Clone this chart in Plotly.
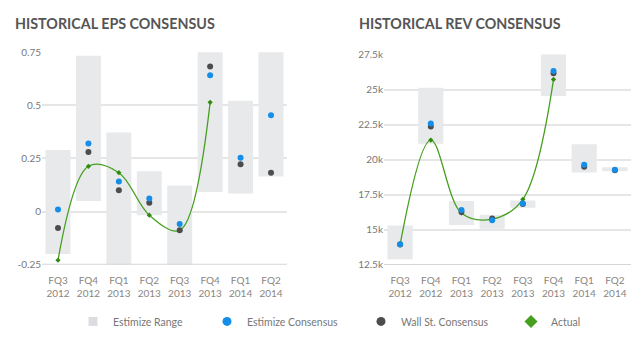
import plotly.graph_objects as go

quarters = ["FQ3<br>2012", "FQ4<br>2012", "FQ1<br>2013", "FQ2<br>2013",
            "FQ3<br>2013", "FQ4<br>2013", "FQ1<br>2014", "FQ2<br>2014"]

# EPS
eps_range_low = [-0.20, 0.05, -0.30, -0.017, -0.30, 0.092, 0.085, 0.165]
eps_range_high = [0.29, 0.733, 0.372, 0.19, 0.123, 0.80, 0.521, 0.80]
eps_estimize = [0.01, 0.32, 0.142, 0.062, -0.059, 0.642, 0.253, 0.453]
eps_wallst = [-0.077, 0.28, 0.10, 0.042, -0.088, 0.683, 0.223, 0.183]
eps_actual = [-0.229, 0.213, 0.183, -0.017, -0.088, 0.514, None, None]

# Revenue
rev_range_low = [12900, 21130, 15350, 15080, 16580, 24530, 19080, 19180]
rev_range_high = [15310, 25120, 17060, 16080, 17100, 28000, 21100, 19460]
rev_estimize = [13980, 22570, 16420, 15690, 16880, 26310, 19640, 19280]
rev_wallst = [13950, 22360, 16270, 15810, 16850, 26150, 19500, 19240]
rev_actual = [13950, 21400, 16200, 15770, 17180, 25720, None, None]

eps_ticks = [-0.25, 0, 0.25, 0.5, 0.75]
eps_ticktext = ["-0.25", "0", "0.25", "0.5", "0.75"]
rev_ticks = [12500, 15000, 17500, 20000, 22500, 25000, 27500]
rev_ticktext = ["12.5k", "15k", "17.5k", "20k", "22.5k", "25k", "27.5k"]

BAR = "#e8e9eb"
BLUE = "#148ee8"
DARK = "#4d4d4d"
GREEN = "#46a020"

fig = go.Figure()

def add_set(xa, ya, low, high, est, ws, act):
    fig.add_trace(go.Bar(x=quarters, y=[h - l for h, l in zip(high, low)], base=low,
                         marker=dict(color=BAR, line=dict(width=0)), width=0.82,
                         name="Estimize Range", showlegend=False,
                         xaxis=xa, yaxis=ya, hoverinfo="skip"))
    fig.add_trace(go.Scatter(x=quarters, y=act, mode="lines+markers",
                             line=dict(color=GREEN, width=1.3, shape="spline", smoothing=1.0),
                             marker=dict(symbol="diamond", size=4, color="#2e8a10"),
                             name="Actual", showlegend=False,
                             xaxis=xa, yaxis=ya))
    fig.add_trace(go.Scatter(x=quarters, y=ws, mode="markers",
                             marker=dict(color=DARK, size=6),
                             name="Wall St. Consensus", showlegend=False,
                             xaxis=xa, yaxis=ya))
    fig.add_trace(go.Scatter(x=quarters, y=est, mode="markers",
                             marker=dict(color=BLUE, size=6),
                             name="Estimize Consensus", showlegend=False,
                             xaxis=xa, yaxis=ya))

add_set("x", "y", eps_range_low, eps_range_high, eps_estimize, eps_wallst, eps_actual)
add_set("x2", "y2", rev_range_low, rev_range_high, rev_estimize, rev_wallst, rev_actual)

# legend-only entries, each in its own legend for exact placement
legend_items = [
    ("Estimize Range", dict(color="#dcdde0", size=9, symbol="square"), "legend"),
    ("Estimize Consensus", dict(color=BLUE, size=9, symbol="circle"), "legend2"),
    ("Wall St. Consensus", dict(color=DARK, size=9, symbol="circle"), "legend3"),
    ("Actual", dict(color=GREEN, size=10, symbol="diamond"), "legend4"),
]
for name, mk, lg in legend_items:
    fig.add_trace(go.Scatter(x=[None], y=[None], mode="markers", marker=mk,
                             name=name, showlegend=True, legend=lg))

legend_sym_x = [93, 227, 381, 531]
lfont = dict(family="Lato", size=10.5, color="#777")
def legend_cfg(px):
    return dict(orientation="h", x=(px - 20) / 640, xanchor="left", y=1 - 327 / 338,
                yanchor="middle", font=lfont, bgcolor="rgba(0,0,0,0)", itemclick=False,
                borderwidth=0)

xcommon = dict(type="category", showgrid=False, zeroline=False, showline=False,
               ticks="", tickfont=dict(family="Lato", size=10, color="#8a8580"),
               ticklabelstandoff=8, fixedrange=True)
ycommon = dict(showgrid=True, gridcolor="#e6e6e6", gridwidth=1.5, zeroline=False,
               showline=False, ticks="", tickfont=dict(family="Lato", size=10, color="#777"),
               fixedrange=True)

fig.update_layout(
    width=640, height=338, margin=dict(l=0, r=0, t=0, b=0),
    paper_bgcolor="white", plot_bgcolor="white", barmode="overlay",
    xaxis=dict(domain=[42/640, 287/640], anchor="y", **xcommon),
    xaxis2=dict(domain=[384/640, 631/640], anchor="y2", **xcommon),
    yaxis=dict(domain=[1-268/338, 1-47/338], anchor="x", range=[-0.25, 0.75],
               tickvals=eps_ticks, ticktext=eps_ticktext, **ycommon),
    yaxis2=dict(domain=[1-268.3/338, 1-49.3/338], anchor="x2", range=[12500, 27500],
                tickvals=rev_ticks, ticktext=rev_ticktext, **ycommon),
    legend=legend_cfg(legend_sym_x[0]),
    legend2=legend_cfg(legend_sym_x[1]),
    legend3=legend_cfg(legend_sym_x[2]),
    legend4=legend_cfg(legend_sym_x[3]),
    annotations=[
        dict(text="<b>HISTORICAL EPS CONSENSUS</b>", x=13/640, y=1-17/338, xref="paper",
             yref="paper", xanchor="left", yanchor="middle", showarrow=False,
             font=dict(family="Lato", size=14.3, color="#555")),
        dict(text="<b>HISTORICAL REV CONSENSUS</b>", x=357/640, y=1-17/338, xref="paper",
             yref="paper", xanchor="left", yanchor="middle", showarrow=False,
             font=dict(family="Lato", size=14.3, color="#555")),
    ],
    shapes=[
        dict(type="line", xref="x domain", yref="y", x0=0, x1=1, y0=-0.25, y1=-0.25,
             line=dict(color="#d6d6d6", width=2)),
        dict(type="line", xref="x2 domain", yref="y2", x0=0, x1=1, y0=12500, y1=12500,
             line=dict(color="#d6d6d6", width=2)),
    ],
)

fig.write_html("out.html")
